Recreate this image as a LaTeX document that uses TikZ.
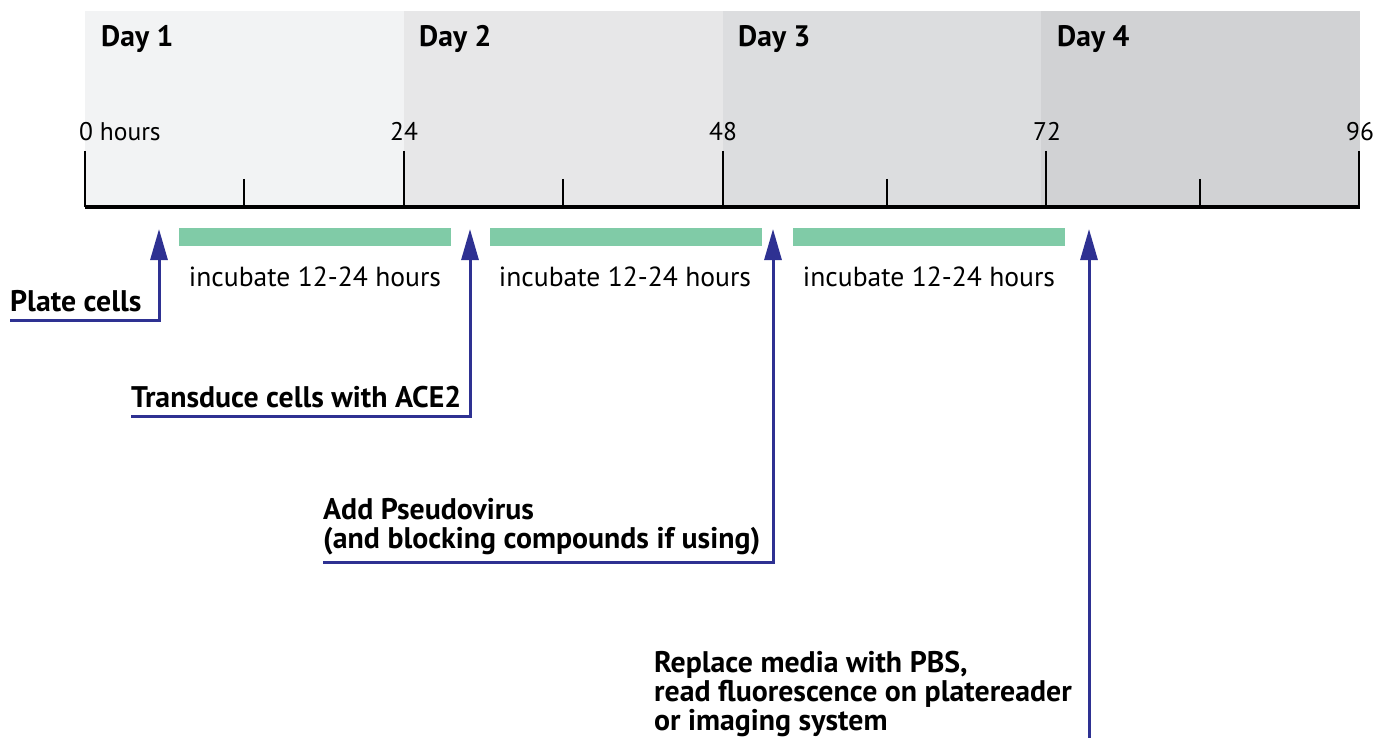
\documentclass[tikz,border=0pt]{standalone}
\usepackage{fontspec}
\setmainfont{PT Sans}
\usepackage{tikz}
\usetikzlibrary{arrows.meta}

\definecolor{dayone}{HTML}{F2F3F4}
\definecolor{daytwo}{HTML}{E7E7E8}
\definecolor{daythree}{HTML}{DCDDDF}
\definecolor{dayfour}{HTML}{D1D2D4}
\definecolor{incgreen}{HTML}{80CBA7}
\definecolor{arrowblue}{HTML}{2E3192}

\begin{document}
\begin{tikzpicture}[x=1pt,y=-1pt]
                \tikzstyle{daylabel}=[anchor=base west, inner sep=0pt, font=\fontsize{29.6}{32}\selectfont\bfseries]
                \tikzstyle{hourlabel}=[anchor=base, inner sep=0pt, font=\fontsize{25.5}{28}\selectfont]
                \tikzstyle{incbar}=[fill=incgreen, draw=none]
                \tikzstyle{inclabel}=[anchor=base, inner sep=0pt, font=\fontsize{27.6}{29}\selectfont]
                \tikzstyle{action}=[anchor=south west, align=left, inner xsep=0pt, text depth=0pt, font=\fontsize{29.8}{29}\selectfont\bfseries]
                \tikzstyle{pointer}=[draw=arrowblue, line width=3pt, -{Triangle[width=17pt,length=31pt,fill=arrowblue]}]
                \useasboundingbox (0,0) rectangle (1386,738);
                \fill[dayone] (85,11) rectangle (404,208);
                \fill[daytwo] (404,11) rectangle (723,208);
                \fill[daythree] (723,11) rectangle (1041,208);
                \fill[dayfour] (1041,11) rectangle (1360,208);
                \node[daylabel] (d1) at (101,47){Day 1};
                \node[daylabel] (d2) at (419,47){Day 2};
                \node[daylabel] (d3) at (738,47){Day 3};
                \node[daylabel] (d4) at (1057,47){Day 4};
                \draw[line width=4pt] (85,207) -- (1360,207);
                \foreach \x in {85,404,723,1046,1359}
                    \draw[line width=1.8pt] (\x,151) -- (\x,207);
                \foreach \x in {244,563,887,1200}
                    \draw[line width=1.8pt] (\x,179) -- (\x,207);
                \node[hourlabel, anchor=base west] (h0) at (79,141){0 hours};
                \node[hourlabel] (h24) at (404,141){24};
                \node[hourlabel] (h48) at (723,141){48};
                \node[hourlabel] (h72) at (1047,141){72};
                \node[hourlabel] (h96) at (1360,141){96};
                \fill[incbar] (179,228) rectangle (451,246);
                \fill[incbar] (490,228) rectangle (762,246);
                \fill[incbar] (793,228) rectangle (1065,246);
                \node[inclabel] (i1) at (315,286){incubate 12-24 hours};
                \node[inclabel] (i2) at (625,286){incubate 12-24 hours};
                \node[inclabel] (i3) at (929,286){incubate 12-24 hours};
                \coordinate (t1) at (159,229);
                \coordinate (t2) at (470,229);
                \coordinate (t3) at (773,229);
                \coordinate (t4) at (1089,229);
                \coordinate (e4) at (1089,740);
                \node[action, inner ysep=8pt] (plate) at (10,320){Plate cells};
                \node[action, inner ysep=8pt] (transduce) at (131,416){Transduce cells with ACE2};
                \node[action, inner ysep=13pt] (virus) at (323,562){Add Pseudovirus\\(and blocking compounds if using)};
                \node[action, inner sep=0pt] (replace) at (654,731){Replace media with PBS,\\read fluorescence on platereader\\or imaging system};
                \draw[pointer] (plate.south west) -| (t1);
                \draw[pointer] (transduce.south west) -| (t2);
                \draw[pointer] (virus.south west) -| (t3);
                \draw[pointer] (e4) -- (t4);
\end{tikzpicture}
\end{document}
